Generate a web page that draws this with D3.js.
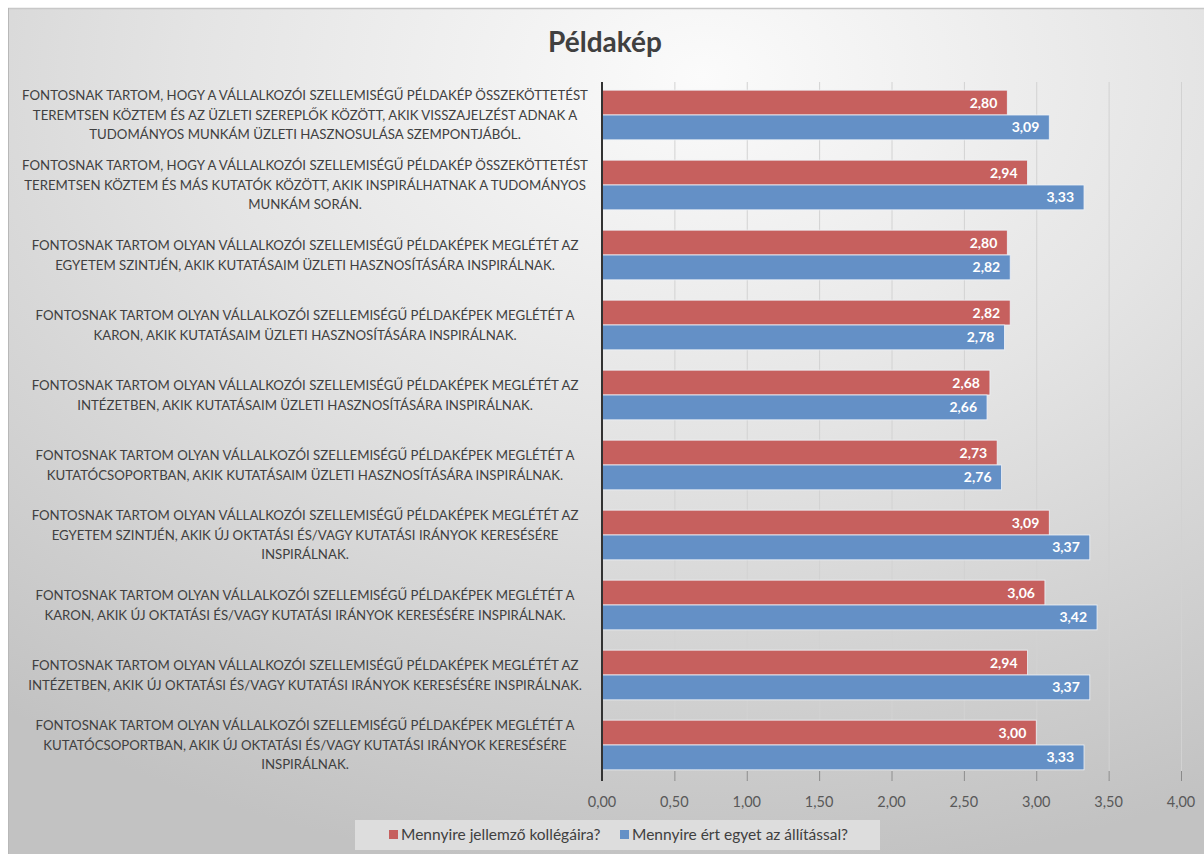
<!DOCTYPE html>
<html>
<head>
<meta charset="utf-8">
<script src="https://cdn.jsdelivr.net/npm/d3@7"></script>
<style>
  html, body { margin: 0; padding: 0; background: #ffffff; }
  svg { display: block; font-family: Lato, "Open Sans", sans-serif; }
</style>
</head>
<body>
<svg id="chart" width="1204" height="854"></svg>
<script>
const title = "Példakép";
const categoryLines = [
  ["FONTOSNAK TARTOM, HOGY A VÁLLALKOZÓI SZELLEMISÉGŰ PÉLDAKÉP ÖSSZEKÖTTETÉST", "TEREMTSEN  KÖZTEM ÉS AZ ÜZLETI SZEREPLŐK KÖZÖTT, AKIK VISSZAJELZÉST ADNAK A", "TUDOMÁNYOS MUNKÁM ÜZLETI HASZNOSULÁSA SZEMPONTJÁBÓL."],
  ["FONTOSNAK TARTOM, HOGY A VÁLLALKOZÓI SZELLEMISÉGŰ PÉLDAKÉP ÖSSZEKÖTTETÉST", "TEREMTSEN  KÖZTEM ÉS MÁS KUTATÓK KÖZÖTT, AKIK INSPIRÁLHATNAK A TUDOMÁNYOS", "MUNKÁM SORÁN."],
  ["FONTOSNAK TARTOM OLYAN VÁLLALKOZÓI SZELLEMISÉGŰ PÉLDAKÉPEK MEGLÉTÉT AZ", "EGYETEM SZINTJÉN, AKIK KUTATÁSAIM ÜZLETI HASZNOSÍTÁSÁRA INSPIRÁLNAK."],
  ["FONTOSNAK TARTOM OLYAN VÁLLALKOZÓI SZELLEMISÉGŰ PÉLDAKÉPEK MEGLÉTÉT A", "KARON, AKIK KUTATÁSAIM ÜZLETI HASZNOSÍTÁSÁRA INSPIRÁLNAK."],
  ["FONTOSNAK TARTOM OLYAN VÁLLALKOZÓI SZELLEMISÉGŰ PÉLDAKÉPEK MEGLÉTÉT AZ", "INTÉZETBEN, AKIK KUTATÁSAIM ÜZLETI HASZNOSÍTÁSÁRA INSPIRÁLNAK."],
  ["FONTOSNAK TARTOM OLYAN VÁLLALKOZÓI SZELLEMISÉGŰ PÉLDAKÉPEK MEGLÉTÉT A", "KUTATÓCSOPORTBAN, AKIK KUTATÁSAIM ÜZLETI HASZNOSÍTÁSÁRA INSPIRÁLNAK."],
  ["FONTOSNAK TARTOM OLYAN VÁLLALKOZÓI SZELLEMISÉGŰ PÉLDAKÉPEK MEGLÉTÉT AZ", "EGYETEM SZINTJÉN, AKIK ÚJ OKTATÁSI ÉS/VAGY KUTATÁSI IRÁNYOK KERESÉSÉRE", "INSPIRÁLNAK."],
  ["FONTOSNAK TARTOM OLYAN VÁLLALKOZÓI SZELLEMISÉGŰ PÉLDAKÉPEK MEGLÉTÉT A", "KARON, AKIK ÚJ OKTATÁSI ÉS/VAGY KUTATÁSI IRÁNYOK KERESÉSÉRE INSPIRÁLNAK."],
  ["FONTOSNAK TARTOM OLYAN VÁLLALKOZÓI SZELLEMISÉGŰ PÉLDAKÉPEK MEGLÉTÉT AZ", "INTÉZETBEN, AKIK ÚJ OKTATÁSI ÉS/VAGY KUTATÁSI IRÁNYOK KERESÉSÉRE INSPIRÁLNAK."],
  ["FONTOSNAK TARTOM OLYAN VÁLLALKOZÓI SZELLEMISÉGŰ PÉLDAKÉPEK MEGLÉTÉT A", "KUTATÓCSOPORTBAN, AKIK ÚJ OKTATÁSI ÉS/VAGY KUTATÁSI IRÁNYOK KERESÉSÉRE", "INSPIRÁLNAK."]
];
const seriesNames = ["Mennyire jellemző kollégáira?", "Mennyire ért egyet az állítással?"];
const jellemzoValues = [2.80, 2.94, 2.80, 2.82, 2.68, 2.73, 3.09, 3.06, 2.94, 3.00];
const egyetertValues = [3.09, 3.33, 2.82, 2.78, 2.66, 2.76, 3.37, 3.42, 3.37, 3.33];
const tickValues = [0, 0.5, 1, 1.5, 2, 2.5, 3, 3.5, 4];
const seriesColors = ["#c6605e", "#6490c6"];

const svg = d3.select("#chart");
const W = 1204, H = 854;
const margin = {left: 602, right: 23, top: 80, bottom: 74};
const fmt = v => v.toFixed(2).replace(".", ",");

// background
const defs = svg.append("defs");
const grad = defs.append("radialGradient").attr("id", "bg")
  .attr("cx", "58%").attr("cy", "8%").attr("r", "95%")
  .attr("fx", "58%").attr("fy", "8%");
grad.append("stop").attr("offset", "0%").attr("stop-color", "#fbfbfb");
grad.append("stop").attr("offset", "45%").attr("stop-color", "#e4e4e4");
grad.append("stop").attr("offset", "100%").attr("stop-color", "#c2c2c2");
svg.append("rect").attr("x", 8).attr("y", 8).attr("width", W - 8).attr("height", H - 8)
  .attr("fill", "url(#bg)");
svg.append("line").attr("x1", 8).attr("x2", W).attr("y1", 8.5).attr("y2", 8.5)
  .attr("stroke", "#c8c8c8").attr("stroke-width", 1.5);
svg.append("line").attr("x1", 8.5).attr("x2", 8.5).attr("y1", 8).attr("y2", H)
  .attr("stroke", "#b8b8b8").attr("stroke-width", 1);

const x = d3.scaleLinear().domain([0, 4]).range([margin.left, W - margin.right]);
const y0 = d3.scaleBand().domain(d3.range(categoryLines.length))
  .range([margin.top, H - margin.bottom]).paddingInner(0.29).paddingOuter(0.145);
const y1 = d3.scaleBand().domain([0, 1]).range([0, y0.bandwidth()]);

// gridlines
svg.append("g").selectAll("line").data(tickValues.slice(1)).join("line")
  .attr("x1", d => x(d) + 0.5).attr("x2", d => x(d) + 0.5)
  .attr("y1", margin.top + 2).attr("y2", H - margin.bottom)
  .attr("stroke", "#d2d2d2").attr("stroke-width", 1);

// bars
const data = categoryLines.map((c, i) => ({i, vals: [jellemzoValues[i], egyetertValues[i]]}));
const groups = svg.append("g").selectAll("g").data(data).join("g")
  .attr("transform", d => `translate(0,${y0(d.i)})`);
groups.selectAll("rect").data(d => d.vals.map((v, s) => ({v, s}))).join("rect")
  .attr("x", x(0)).attr("y", d => y1(d.s))
  .attr("width", d => x(d.v) - x(0)).attr("height", y1.bandwidth())
  .attr("fill", d => seriesColors[d.s])
  .attr("stroke", "#eef2f8").attr("stroke-width", 0.8);
groups.selectAll("text").data(d => d.vals.map((v, s) => ({v, s}))).join("text")
  .attr("x", d => x(d.v) - 10).attr("y", d => y1(d.s) + y1.bandwidth() / 2 + 5)
  .attr("text-anchor", "end").attr("fill", "#ffffff")
  .attr("font-weight", "bold").attr("font-size", "14px")
  .text(d => fmt(d.v));

// axis line (vertical at 0)
svg.append("line").attr("x1", x(0)).attr("x2", x(0))
  .attr("y1", margin.top + 2).attr("y2", H - margin.bottom + 1)
  .attr("stroke", "#333").attr("stroke-width", 2);

// bottom axis ticks & labels
const axisG = svg.append("g").attr("transform", `translate(0,${H - margin.bottom})`);
axisG.selectAll("line").data(tickValues.slice(1)).join("line")
  .attr("x1", d => x(d) + 0.5).attr("x2", d => x(d) + 0.5)
  .attr("y1", -9).attr("y2", 1)
  .attr("stroke", "#8a8a8a").attr("stroke-width", 1);
axisG.selectAll("text").data(tickValues).join("text")
  .attr("x", d => x(d)).attr("y", 27)
  .attr("text-anchor", "middle").attr("fill", "#595959").attr("font-size", "14.5px")
  .text(d => fmt(d));

// category labels
const labelCx = 305, lineH = 19.5, targetW = 566;
const labG = svg.append("g");
const labels = labG.selectAll("text").data(categoryLines).join("text")
  .attr("text-anchor", "middle").attr("fill", "#404040")
  .attr("font-size", "13.8px");
labels.each(function(lines, i) {
  const cy = y0(i) + y0.bandwidth() / 2;
  const t = d3.select(this);
  lines.forEach((ln, k) => {
    t.append("tspan").attr("x", 0)
      .attr("y", cy + (k - (lines.length - 1) / 2) * lineH + 5)
      .text(ln);
  });
});
// measure the widest line to compress horizontally like the narrow original font
let maxW = 0;
labels.selectAll("tspan").each(function() { maxW = Math.max(maxW, this.getComputedTextLength()); });
const k = maxW > 0 ? targetW / maxW : 1;
labels.attr("transform", `translate(${labelCx},0) scale(${k},1)`);

// title
svg.append("text").attr("x", 605).attr("y", 52)
  .attr("text-anchor", "middle").attr("fill", "#404040")
  .attr("font-weight", "bold").attr("font-size", "28px")
  .text(title);

// legend
const leg = svg.append("g");
leg.append("rect").attr("x", 355).attr("y", 820).attr("width", 525).attr("height", 30)
  .attr("fill", "#dddddd");
const legItems = [{x: 389, s: 0}, {x: 620, s: 1}];
legItems.forEach(it => {
  leg.append("rect").attr("x", it.x).attr("y", 830).attr("width", 9).attr("height", 9)
    .attr("fill", seriesColors[it.s]);
  leg.append("text").attr("x", it.x + 12).attr("y", 840)
    .attr("fill", "#404040").attr("font-size", "15.5px")
    .text(seriesNames[it.s]);
});
</script>
</body>
</html>
